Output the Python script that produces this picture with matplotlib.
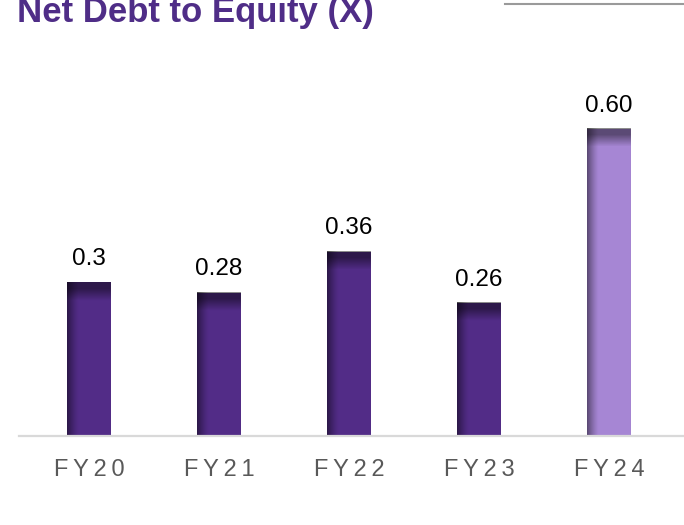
import numpy as np
import matplotlib
matplotlib.use("Agg")
import matplotlib.pyplot as plt
from matplotlib.lines import Line2D

years = ["FY20", "FY21", "FY22", "FY23", "FY24"]
ratios = [0.30, 0.28, 0.36, 0.26, 0.60]
value_labels = ["0.3", "0.28", "0.36", "0.26", "0.60"]
bar_colors = ["#522c87", "#522c87", "#522c87", "#522c87", "#a686d4"]

plt.rcParams["font.family"] = ["Liberation Sans", "DejaVu Sans"]

fig = plt.figure(figsize=(6.84, 5.25), dpi=100)
ax = fig.add_axes([19 / 684, 89 / 525, 665 / 684, 0.78])

x = np.arange(len(years))
width = 0.34
bars = ax.bar(x, ratios, width=width, color=bar_colors, zorder=2)

ax.set_xlim(-0.538, 4.577)
ax.set_ylim(0, 0.8)
fig.canvas.draw()
ppu = ax.transData.transform((0, 1))[1] - ax.transData.transform((0, 0))[1]
ppx = ax.transData.transform((1, 0))[0] - ax.transData.transform((0, 0))[0]

# shading: dark band at top of each bar, darker left edge, light right rim
for rect in bars:
    bx, bw, bh = rect.get_x(), rect.get_width(), rect.get_height()
    hpx = bh * ppu
    wpx = bw * ppx
    ny, nx = int(hpx), int(wpx)
    yy = np.arange(ny)[:, None] * np.ones((1, nx))
    xx = np.ones((ny, 1)) * np.arange(nx)[None, :]
    a_top = 0.45 * np.clip(1 - (yy - 6) / 12, 0, 1)
    a_left = 0.45 * np.clip(1 - xx / 11, 0, 1) ** 1.3
    alpha = 1 - (1 - a_top) * (1 - a_left)
    img = np.zeros((ny, nx, 4))
    img[..., 3] = alpha
    img[:, -1, :3] = 1.0
    img[:, -1, 3] = 0.35
    ax.imshow(img, extent=(bx, bx + bw, 0, bh), aspect="auto",
              interpolation="bilinear", zorder=3)

ax.set_xlim(-0.538, 4.577)
ax.set_ylim(0, 0.8)

for xi, v, lab in zip(x, ratios, value_labels):
    ax.annotate(lab, (xi, v), xytext=(0, 12.5), textcoords="offset points",
                ha="center", va="baseline", fontsize=17.5, color="black")

for side in ["top", "right", "left"]:
    ax.spines[side].set_visible(False)
ax.spines["bottom"].set_color("#d9d9d9")
ax.spines["bottom"].set_linewidth(1.6)
ax.spines["bottom"].set_zorder(4)
ax.set_yticks([])
ax.set_xticks(x)
ax.set_xticklabels(["\u2009".join(y) for y in years],
                   fontsize=17, color="#595959")
ax.tick_params(axis="x", length=0, pad=16.5)

fig.text(17 / 684, 1 - 22 / 525, "Net Debt to Equity (X)", fontsize=25,
         fontweight="bold", color="#4f2d87", va="baseline", ha="left")
fig.add_artist(Line2D([505 / 684, 1], [1 - 4 / 525, 1 - 4 / 525],
                      transform=fig.transFigure, color="#9a9a9a", lw=1.5))

fig.savefig("out.png", dpi=100)
